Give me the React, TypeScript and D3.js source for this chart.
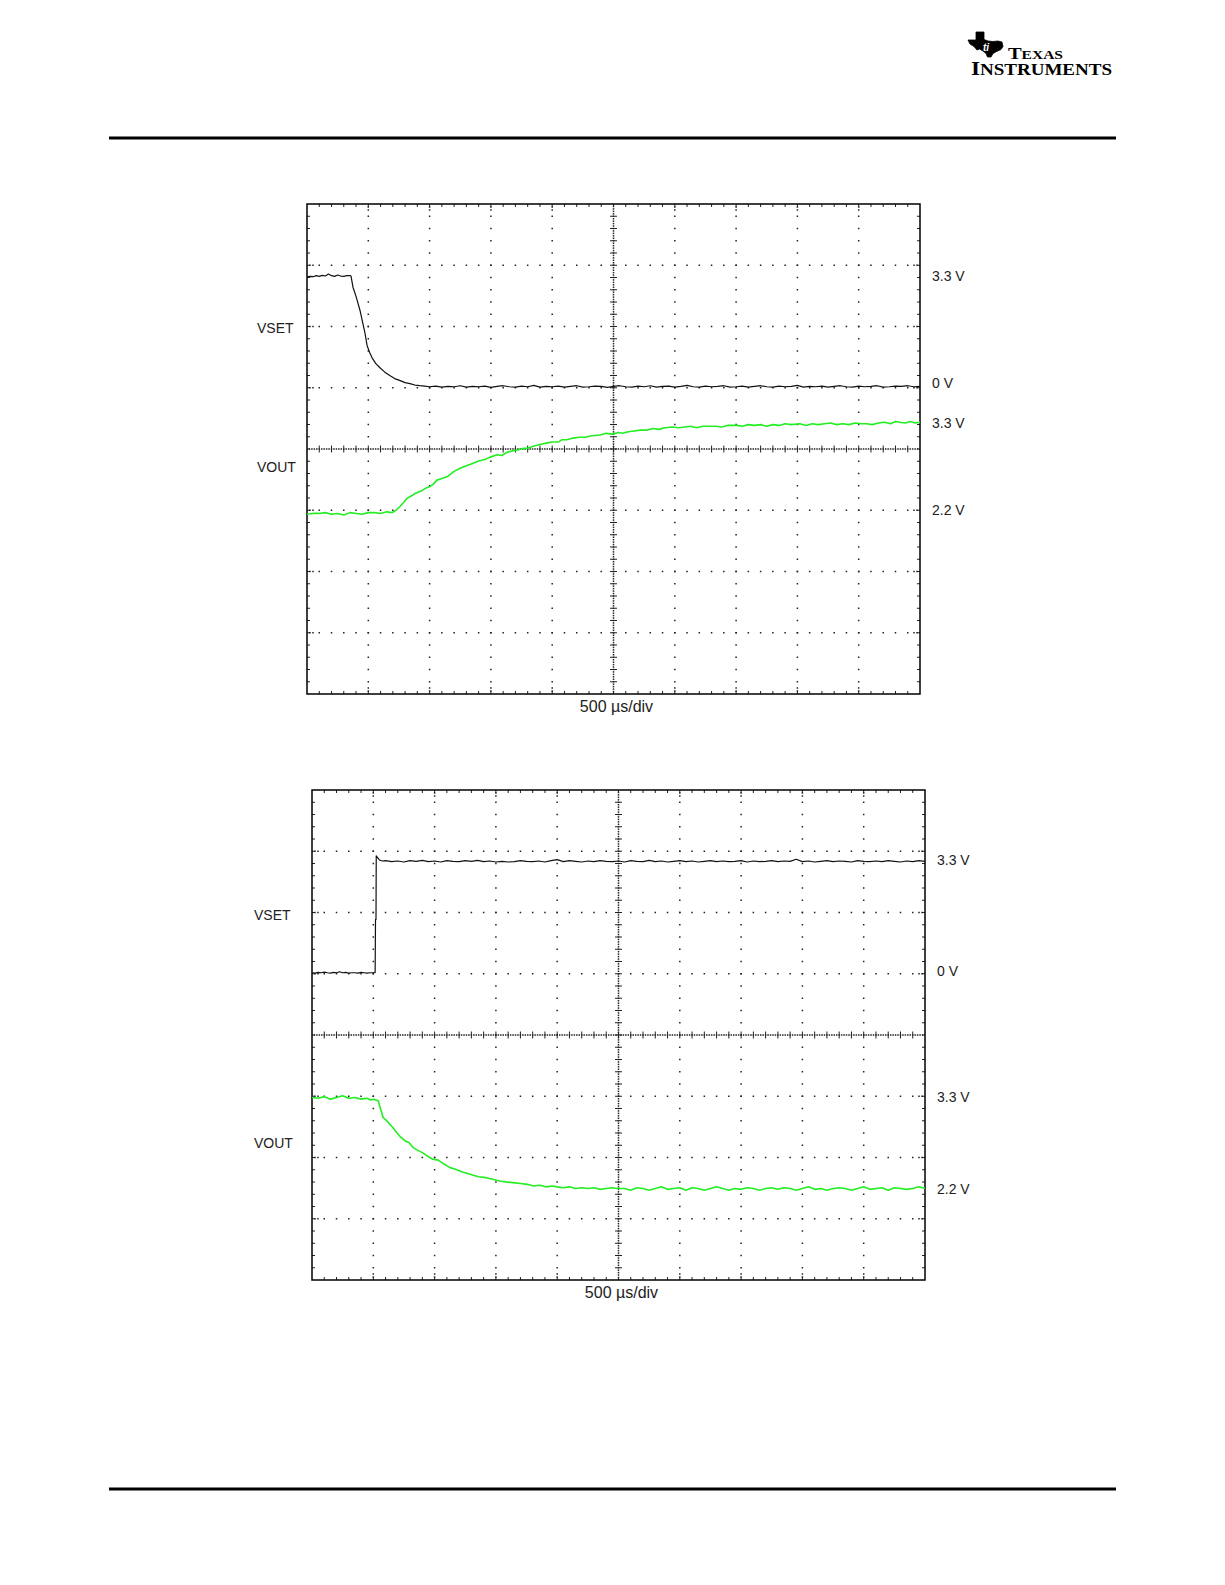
import React from "react";
import * as d3 from "d3";

type Pt = [number, number]; // [time µs, volts]

// ---------- DATA ----------
const timeDomain: [number, number] = [0, 5000]; // 500 µs/div × 10 div
const xDivisions = 10;
const yDivisions = 8;
const timeBaseLabel = "500 µs/div";
const channelNames = ["VSET", "VOUT"];

// Top capture: VSET 3.3 V -> 0 V, VOUT 2.2 V -> 3.3 V
const topVset: Pt[] = [
  [0, 3.27], [25, 3.29], [50, 3.28], [75, 3.31], [100, 3.29], [125, 3.32], [150, 3.3], [175, 3.36],
  [200, 3.31], [225, 3.29], [250, 3.33], [275, 3.3], [300, 3.29], [325, 3.31], [350, 3.31], [359, 3.3],
  [375, 2.97], [400, 2.7], [432, 2.29], [473, 1.61], [490, 1.25], [510, 1.05], [530, 0.89], [560, 0.72],
  [595, 0.59], [635, 0.46], [675, 0.36], [715, 0.27], [760, 0.21], [800, 0.15], [840, 0.12], [880, 0.08],
  [920, 0.06], [960, 0.05], [1000, 0.03], [1050, 0.05], [1100, 0.02], [1150, 0.04], [1200, 0.03],
  [1250, 0.06], [1300, 0.02], [1350, 0.04], [1400, 0.03], [1450, 0.05], [1500, 0.01], [1550, 0.04],
  [1600, 0.06], [1650, 0.03], [1700, 0.02], [1750, 0.05], [1800, 0.03], [1850, 0.07], [1900, 0.02],
  [1950, 0.04], [2000, 0.03], [2050, 0.05], [2100, 0.02], [2150, 0.04], [2200, 0.06], [2250, 0.02],
  [2300, 0.03], [2350, 0.05], [2400, 0.04], [2450, 0.01], [2500, 0.04], [2550, 0.06], [2600, 0.03],
  [2650, 0.02], [2700, 0.05], [2750, 0.03], [2800, 0.06], [2850, 0.02], [2900, 0.04], [2950, 0.05],
  [3000, 0.02], [3050, 0.04], [3100, 0.07], [3150, 0.03], [3200, 0.02], [3250, 0.05], [3300, 0.03],
  [3350, 0.04], [3400, 0.06], [3450, 0.02], [3500, 0.03], [3550, 0.05], [3600, 0.02], [3650, 0.04],
  [3700, 0.06], [3750, 0.03], [3800, 0.02], [3850, 0.05], [3900, 0.03], [3950, 0.04], [4000, 0.07],
  [4050, 0.02], [4100, 0.04], [4150, 0.03], [4200, 0.05], [4250, 0.02], [4300, 0.04], [4350, 0.06],
  [4400, 0.03], [4450, 0.02], [4500, 0.05], [4550, 0.03], [4600, 0.04], [4650, 0.06], [4700, 0.02],
  [4750, 0.03], [4800, 0.05], [4850, 0.04], [4900, 0.06], [4950, 0.03], [5000, 0.04],
];

const topVout: Pt[] = [
  [0, 2.15], [50, 2.16], [100, 2.16], [150, 2.17], [200, 2.15], [250, 2.16], [300, 2.14], [350, 2.17],
  [400, 2.16], [450, 2.15], [500, 2.17], [550, 2.17], [600, 2.16], [650, 2.18], [695, 2.17],
  [725, 2.2], [760, 2.25], [790, 2.3], [815, 2.35], [850, 2.38], [880, 2.41], [910, 2.43], [940, 2.45],
  [970, 2.48], [1005, 2.5], [1030, 2.53], [1060, 2.58], [1100, 2.6], [1150, 2.63], [1200, 2.69],
  [1250, 2.73], [1300, 2.76], [1350, 2.79], [1400, 2.82], [1450, 2.84], [1495, 2.87], [1550, 2.9],
  [1590, 2.89], [1630, 2.93], [1680, 2.95], [1720, 2.96], [1760, 2.98], [1795, 2.98], [1850, 3.01],
  [1900, 3.03], [1960, 3.05], [2000, 3.06], [2050, 3.06], [2080, 3.09], [2120, 3.09], [2170, 3.11],
  [2220, 3.12], [2270, 3.12], [2320, 3.14], [2390, 3.15], [2440, 3.17], [2490, 3.16], [2540, 3.18],
  [2575, 3.17], [2620, 3.19], [2670, 3.2], [2720, 3.21], [2770, 3.21], [2820, 3.23], [2870, 3.22],
  [2920, 3.24], [2980, 3.25], [3030, 3.24], [3080, 3.25], [3130, 3.26], [3180, 3.24], [3230, 3.26],
  [3285, 3.26], [3330, 3.26], [3380, 3.25], [3430, 3.27], [3505, 3.27], [3550, 3.26], [3600, 3.28],
  [3650, 3.27], [3700, 3.28], [3750, 3.26], [3800, 3.28], [3850, 3.27], [3900, 3.29], [3950, 3.28],
  [4020, 3.29], [4070, 3.27], [4120, 3.29], [4170, 3.28], [4220, 3.29], [4270, 3.3], [4320, 3.28],
  [4370, 3.29], [4420, 3.28], [4470, 3.3], [4520, 3.29], [4565, 3.29], [4610, 3.28], [4660, 3.3],
  [4710, 3.31], [4760, 3.29], [4800, 3.32], [4835, 3.31], [4880, 3.3], [4920, 3.32], [4960, 3.3],
  [5000, 3.31],
];

// Bottom capture: VSET 0 V -> 3.3 V, VOUT 3.3 V -> 2.2 V
const bottomVset: Pt[] = [
  [0, 0.03], [25, 0.02], [50, 0.04], [75, 0.03], [100, 0.05], [125, 0.03], [150, 0.02], [175, 0.04],
  [200, 0.03], [225, 0.06], [250, 0.03], [275, 0.04], [300, 0.02], [325, 0.03], [350, 0.03], [375, 0.02],
  [400, 0.04], [425, 0.03], [450, 0.02], [475, 0.03], [500, 0.03], [515, 0.04], [518, 1.59], [522, 1.59],
  [524, 3.45], [535, 3.4], [550, 3.33], [575, 3.3], [600, 3.31], [650, 3.28], [700, 3.3], [750, 3.27],
  [800, 3.31], [850, 3.29], [900, 3.32], [950, 3.28], [1000, 3.3], [1050, 3.27], [1100, 3.31],
  [1150, 3.29], [1200, 3.28], [1250, 3.31], [1300, 3.29], [1350, 3.32], [1400, 3.28], [1450, 3.3],
  [1500, 3.27], [1550, 3.29], [1600, 3.27], [1650, 3.28], [1700, 3.31], [1750, 3.29], [1800, 3.28],
  [1850, 3.3], [1900, 3.27], [1950, 3.31], [2000, 3.34], [2050, 3.28], [2100, 3.31], [2150, 3.29],
  [2200, 3.27], [2250, 3.3], [2300, 3.28], [2350, 3.31], [2400, 3.29], [2450, 3.28], [2500, 3.3],
  [2550, 3.27], [2600, 3.31], [2650, 3.29], [2700, 3.28], [2750, 3.32], [2800, 3.28], [2850, 3.3],
  [2900, 3.27], [2950, 3.29], [3000, 3.31], [3050, 3.28], [3100, 3.3], [3150, 3.27], [3200, 3.29],
  [3250, 3.31], [3300, 3.28], [3350, 3.3], [3400, 3.28], [3450, 3.29], [3500, 3.31], [3550, 3.27],
  [3600, 3.3], [3650, 3.28], [3700, 3.29], [3750, 3.31], [3800, 3.28], [3850, 3.3], [3900, 3.29],
  [3950, 3.35], [4000, 3.28], [4050, 3.3], [4100, 3.27], [4150, 3.29], [4200, 3.31], [4250, 3.28],
  [4300, 3.3], [4350, 3.29], [4400, 3.27], [4450, 3.31], [4500, 3.29], [4550, 3.28], [4600, 3.3],
  [4650, 3.28], [4700, 3.31], [4750, 3.29], [4800, 3.27], [4850, 3.3], [4900, 3.28], [4950, 3.31],
  [5000, 3.29],
];

const bottomVout: Pt[] = [
  [0, 3.3], [50, 3.29], [100, 3.31], [150, 3.28], [200, 3.3], [250, 3.32], [300, 3.29], [350, 3.3],
  [400, 3.28], [450, 3.29], [480, 3.27], [500, 3.28], [520, 3.27], [540, 3.26],
  [560, 3.16], [580, 3.06], [610, 3.02], [640, 2.97], [660, 2.94], [690, 2.88], [720, 2.83], [760, 2.78],
  [790, 2.76], [825, 2.7], [860, 2.67], [900, 2.64], [940, 2.6], [985, 2.56], [1030, 2.55], [1080, 2.5],
  [1125, 2.46], [1170, 2.44], [1220, 2.41], [1270, 2.39], [1315, 2.37], [1360, 2.35], [1420, 2.34],
  [1475, 2.32], [1530, 2.3], [1580, 2.29], [1640, 2.28], [1700, 2.27], [1755, 2.26], [1810, 2.24],
  [1860, 2.25], [1910, 2.23], [1960, 2.24], [2000, 2.23], [2050, 2.22], [2100, 2.23], [2150, 2.21],
  [2200, 2.22], [2250, 2.21], [2300, 2.22], [2350, 2.2], [2400, 2.21], [2450, 2.22], [2490, 2.21],
  [2550, 2.21], [2600, 2.19], [2650, 2.22], [2700, 2.21], [2750, 2.19], [2800, 2.21], [2850, 2.23],
  [2900, 2.2], [2950, 2.21], [3000, 2.22], [3050, 2.19], [3100, 2.22], [3150, 2.21], [3200, 2.19],
  [3250, 2.21], [3300, 2.23], [3350, 2.21], [3400, 2.19], [3450, 2.21], [3500, 2.2], [3550, 2.22],
  [3600, 2.21], [3650, 2.19], [3700, 2.21], [3750, 2.22], [3800, 2.2], [3850, 2.22], [3900, 2.21],
  [3950, 2.19], [4000, 2.21], [4050, 2.23], [4100, 2.2], [4150, 2.21], [4200, 2.19], [4250, 2.21],
  [4300, 2.22], [4350, 2.21], [4400, 2.19], [4450, 2.21], [4500, 2.23], [4550, 2.2], [4600, 2.21],
  [4650, 2.22], [4700, 2.19], [4750, 2.22], [4800, 2.21], [4850, 2.2], [4900, 2.21], [4950, 2.23],
  [5000, 2.21],
];

const topVsetLevels = [3.3, 0];
const topVoutLevels = [3.3, 2.2];
const bottomVsetLevels = [3.3, 0];
const bottomVoutLevels = [3.3, 2.2];

// ---------- LAYOUT ----------
const W = 1225;
const H = 1585;
const FONT = "'Liberation Sans', Arial, Helvetica, sans-serif";

type Cal = { vA: number; dA: number; vB: number; dB: number }; // volts vA at division dA (from top)
type PanelDef = {
  x0: number; y0: number; x1: number; y1: number;
  vset: Pt[]; vout: Pt[];
  vsetCal: Cal; voutCal: Cal;
  vsetLevels: number[]; voutLevels: number[];
  nameX: number; nameDiv: [number, number];
  zeroLabelDy: number;
};

const panels: PanelDef[] = [
  {
    x0: 307, y0: 204, x1: 920, y1: 694,
    vset: topVset, vout: topVout,
    vsetCal: { vA: 0, dA: 3.0, vB: 3.3, dB: 1.176 },
    voutCal: { vA: 2.2, dA: 5.0, vB: 3.3, dB: 3.576 },
    vsetLevels: topVsetLevels, voutLevels: topVoutLevels,
    nameX: 257, nameDiv: [2.03, 4.3],
    zeroLabelDy: -4,
  },
  {
    x0: 312, y0: 790, x1: 925, y1: 1280,
    vset: bottomVset, vout: bottomVout,
    vsetCal: { vA: 0, dA: 3.0, vB: 3.3, dB: 1.159 },
    voutCal: { vA: 3.3, dA: 5.02, vB: 2.2, dB: 6.52 },
    vsetLevels: bottomVsetLevels, voutLevels: bottomVoutLevels,
    nameX: 254, nameDiv: [2.04, 5.77],
    zeroLabelDy: -2,
  },
];

function Scope({ p }: { p: PanelDef }) {
  const x = d3.scaleLinear().domain(timeDomain).range([p.x0, p.x1]);
  const gx = d3.scaleLinear().domain([0, xDivisions]).range([p.x0, p.x1]);
  const gy = d3.scaleLinear().domain([0, yDivisions]).range([p.y0, p.y1]);
  const chScale = (c: Cal) =>
    d3.scaleLinear().domain([c.vA, c.vB]).range([gy(c.dA), gy(c.dB)]);
  const ySet = chScale(p.vsetCal);
  const yOut = chScale(p.voutCal);
  const lineSet = d3.line<Pt>().x((d) => x(d[0])).y((d) => ySet(d[1]));
  const lineOut = d3.line<Pt>().x((d) => x(d[0])).y((d) => yOut(d[1]));

  const dot = 1.5;
  const dotColor = "#222";
  const dots: JSX.Element[] = [];
  const ticks: JSX.Element[] = [];
  const cx = xDivisions / 2;
  const cy = yDivisions / 2;
  let key = 0;
  const addDot = (px: number, py: number) =>
    dots.push(<rect key={key++} x={px - dot / 2} y={py - dot / 2} width={dot} height={dot} fill={dotColor} />);

  // vertical major gridlines
  for (let i = 1; i < xDivisions; i++) {
    const px = gx(i);
    if (i === cx) {
      for (let k = 1; k < yDivisions * 25; k++) addDot(px, gy(k / 25));
      for (let k = 1; k < yDivisions * 5; k++) {
        const py = gy(k / 5);
        ticks.push(<line key={key++} x1={px - 3.5} x2={px + 3.5} y1={py} y2={py} stroke="#222" strokeWidth={1} />);
      }
    } else {
      for (let k = 1; k < yDivisions * 5; k++) addDot(px, gy(k / 5));
      [3, 6].forEach((o) => { addDot(px, p.y0 + o); addDot(px, p.y1 - o); });
    }
  }
  // horizontal major gridlines
  for (let j = 1; j < yDivisions; j++) {
    const py = gy(j);
    if (j === cy) {
      for (let k = 1; k < xDivisions * 25; k++) addDot(gx(k / 25), py);
      for (let k = 1; k < xDivisions * 5; k++) {
        const px = gx(k / 5);
        ticks.push(<line key={key++} x1={px} x2={px} y1={py - 3.5} y2={py + 3.5} stroke="#222" strokeWidth={1} />);
      }
    } else {
      for (let k = 1; k < xDivisions * 5; k++) addDot(gx(k / 5), py);
      [3, 6].forEach((o) => { addDot(p.x0 + o, py); addDot(p.x1 - o, py); });
    }
  }
  // frame minor ticks
  for (let k = 1; k < xDivisions * 5; k++) {
    const px = gx(k / 5);
    ticks.push(<line key={key++} x1={px} x2={px} y1={p.y0} y2={p.y0 + 3} stroke="#222" strokeWidth={1} />);
    ticks.push(<line key={key++} x1={px} x2={px} y1={p.y1 - 3} y2={p.y1} stroke="#222" strokeWidth={1} />);
  }
  for (let k = 1; k < yDivisions * 5; k++) {
    const py = gy(k / 5);
    ticks.push(<line key={key++} x1={p.x0} x2={p.x0 + 3} y1={py} y2={py} stroke="#222" strokeWidth={1} />);
    ticks.push(<line key={key++} x1={p.x1 - 3} x2={p.x1} y1={py} y2={py} stroke="#222" strokeWidth={1} />);
  }

  const fmt = (v: number) => (v === 0 ? "0 V" : `${v.toFixed(1)} V`);
  const levelLabels = [
    ...p.vsetLevels.map((v) => ({ v, y: ySet(v) + 4.5 + (v === 0 ? p.zeroLabelDy : 0) })),
    ...p.voutLevels.map((v) => ({ v, y: yOut(v) + 4.5 })),
  ];

  return (
    <g>
      <g>{dots}</g>
      <g>{ticks}</g>
      <rect x={p.x0} y={p.y0} width={p.x1 - p.x0} height={p.y1 - p.y0} fill="none" stroke="#000" strokeWidth={1.5} />
      <path d={lineOut(p.vout) || ""} fill="none" stroke="#22ee22" strokeWidth={1.6} strokeLinejoin="round" />
      <path d={lineSet(p.vset) || ""} fill="none" stroke="#111" strokeWidth={1.2} strokeLinejoin="round" />
      {levelLabels.map((l, i) => (
        <text key={i} x={p.x1 + 12} y={l.y} fontFamily={FONT} fontSize={14} fill="#222">
          {fmt(l.v)}
        </text>
      ))}
      {channelNames.map((n, i) => (
        <text key={n} x={p.nameX} y={gy(p.nameDiv[i]) + 5} fontFamily={FONT} fontSize={14} fill="#222">
          {n}
        </text>
      ))}
      <text x={(p.x0 + p.x1) / 2 + 3} y={p.y1 + 18} textAnchor="middle" fontFamily={FONT} fontSize={16} fill="#222">
        {timeBaseLabel}
      </text>
    </g>
  );
}

function TILogo() {
  const ox = 968;
  const oy = 32;
  // simplified Texas silhouette of the TI emblem
  const texas =
    "M8,0 L16,0 L16,7.5 L20,9 L25,9.5 L30,9 L34,10 L35,14.5 L33,17.5 L28.5,19.5 L25,21.5 L23,25 L19.5,25 L18,21.5 L15,19 L11.5,17 L9,18 L6,14.5 L2,12 L0,8 L8,8 Z";
  return (
    <g>
      <path d={texas} transform={`translate(${ox},${oy})`} fill="#000" stroke="#000" strokeWidth={0.8} strokeLinejoin="round" />
      <text x={ox + 15} y={oy + 19} fontFamily="'Liberation Sans', Arial, sans-serif" fontWeight="bold" fontStyle="italic" fontSize={10} fill="#fff">
        ti
      </text>
      <text x={1008} y={59} fontFamily="'Liberation Serif', 'Times New Roman', serif" fontWeight="bold" textLength={55} lengthAdjust="spacingAndGlyphs" fill="#000">
        <tspan fontSize={16.6}>T</tspan>
        <tspan fontSize={12.6}>EXAS</tspan>
      </text>
      <text x={971} y={75} fontFamily="'Liberation Serif', 'Times New Roman', serif" fontWeight="bold" textLength={141} lengthAdjust="spacingAndGlyphs" fill="#000">
        <tspan fontSize={19.6}>I</tspan>
        <tspan fontSize={16}>NSTRUMENTS</tspan>
      </text>
    </g>
  );
}

export default function App() {
  return (
    <div style={{ position: "absolute", left: 0, top: 0, width: W, height: H, background: "#fff" }}>
      <svg width={W} height={H} viewBox={`0 0 ${W} ${H}`} style={{ display: "block" }}>
        <rect x={0} y={0} width={W} height={H} fill="#fff" />
        <TILogo />
        <rect x={109} y={136.5} width={1007} height={3} fill="#000" />
        <rect x={109} y={1487.5} width={1007} height={3} fill="#000" />
        {panels.map((p, i) => (
          <Scope key={i} p={p} />
        ))}
      </svg>
    </div>
  );
}
